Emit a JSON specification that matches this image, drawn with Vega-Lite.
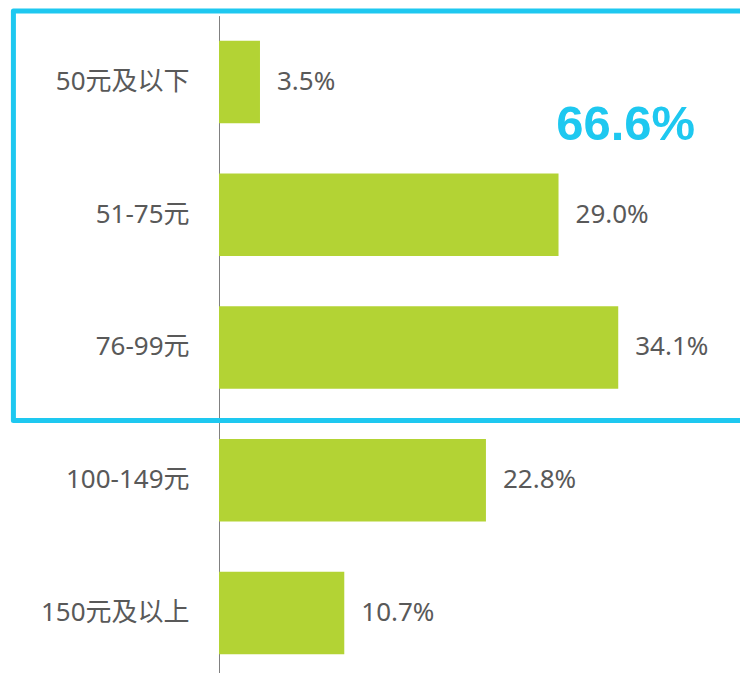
{
  "$schema": "https://vega.github.io/schema/vega-lite/v6.json",
  "autosize": "none",
  "padding": {"left": 219, "top": 15.6, "right": 0, "bottom": 0},
  "width": 521,
  "height": 663.75,
  "config": {"view": {"stroke": null}},
  "layer": [
    {
      "data": {
        "values": [
          {"range": "50元及以下", "pct": 3.5, "label": "3.5%"},
          {"range": "51-75元", "pct": 29.0, "label": "29.0%"},
          {"range": "76-99元", "pct": 34.1, "label": "34.1%"},
          {"range": "100-149元", "pct": 22.8, "label": "22.8%"},
          {"range": "150元及以上", "pct": 10.7, "label": "10.7%"}
        ]
      },
      "encoding": {
        "y": {
          "field": "range",
          "type": "nominal",
          "sort": null,
          "scale": {"paddingInner": 0.378, "paddingOuter": 0.189},
          "axis": {
            "title": null,
            "ticks": false,
            "labelPadding": 30,
            "labelFontSize": 26,
            "labelColor": "#595959",
            "labelFont": "Noto Sans, Noto Sans CJK SC",
            "domainColor": "#7f7f7f",
            "domainWidth": 1
          }
        },
        "x": {
          "field": "pct",
          "type": "quantitative",
          "scale": {"domain": [0, 44.5], "nice": false},
          "axis": null
        }
      },
      "layer": [
        {"mark": {"type": "bar", "color": "#b3d334"}},
        {
          "mark": {"type": "text", "align": "left", "baseline": "middle", "dx": 17, "fontSize": 26, "color": "#595959", "font": "Noto Sans"},
          "encoding": {"text": {"field": "label"}}
        }
      ]
    },
    {
      "data": {
        "values": [
          {"x1": -17.56, "x2": 50, "y1": 5.035, "y2": 1.95, "note": "66.6%", "tx": 34.73, "ty": 4.063}
        ]
      },
      "layer": [
        {
          "mark": {"type": "rect", "filled": false, "stroke": "#1ec8f0", "strokeWidth": 5, "strokeJoin": "round"},
          "encoding": {
            "x": {"field": "x1", "type": "quantitative", "scale": {"domain": [0, 44.5], "nice": false}, "axis": null},
            "x2": {"field": "x2"},
            "y": {"field": "y1", "type": "quantitative", "scale": {"domain": [0, 5], "nice": false, "zero": false}, "axis": null},
            "y2": {"field": "y2"}
          }
        },
        {
          "mark": {"type": "text", "align": "center", "baseline": "alphabetic", "fontSize": 49, "fontWeight": "bold", "font": "Liberation Sans", "color": "#1ec8f0"},
          "encoding": {
            "x": {"field": "tx", "type": "quantitative", "scale": {"domain": [0, 44.5], "nice": false}, "axis": null},
            "y": {"field": "ty", "type": "quantitative", "scale": {"domain": [0, 5], "nice": false, "zero": false}, "axis": null},
            "text": {"field": "note"}
          }
        }
      ]
    }
  ],
  "resolve": {"scale": {"y": "independent"}}
}
